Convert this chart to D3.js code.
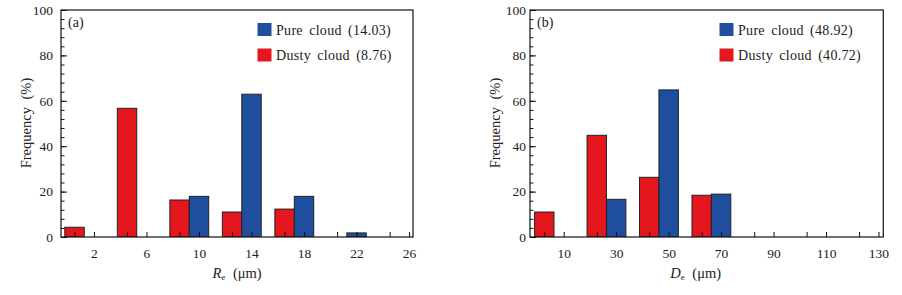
<!DOCTYPE html>
<html>
<head>
<meta charset="utf-8">
<script src="https://cdn.jsdelivr.net/npm/d3@7"></script>
<style>
  body { margin: 0; background: #fff; }
  svg { display: block; }
  text { font-family: "Liberation Serif", "Times New Roman", serif; fill: #222; }
</style>
</head>
<body>
<div id="chart"></div>
<script>
// panel (a): effective radius
const reBins = [2, 6, 10, 14, 18, 22, 26];
const rePure = [0, 0, 17.9, 62.9, 17.9, 1.8, 0];
const reDusty = [4.3, 56.7, 16.3, 11.0, 12.3, 0, 0];
// panel (b): effective diameter
const deBins = [10, 30, 50, 70, 90, 110, 130];
const dePure = [0, 16.6, 64.8, 18.9, 0, 0, 0];
const deDusty = [11.0, 44.8, 26.3, 18.4, 0, 0, 0];
const yTicks = [0, 20, 40, 60, 80, 100];
const seriesNames = ["Pure cloud", "Dusty cloud"];
const meansA = [14.03, 8.76];
const meansB = [48.92, 40.72];

const colors = { pure: "#1f4e9e", dusty: "#e3171d" };

const svg = d3.select("#chart").append("svg")
    .attr("width", 902)
    .attr("height", 295);

function drawPanel(opt) {
    const x = d3.scaleLinear().domain(opt.xDomain).range([opt.left, opt.right]);
    const y = d3.scaleLinear().domain([0, 100]).range([237, 10]);
    const w = opt.barW;
    const g = svg.append("g");

    const data = opt.bins.map((b, i) => ({ bin: b, pure: opt.pure[i], dusty: opt.dusty[i] }));

    // clip so the trailing group can't spill out of the frame
    const clipId = "clip-" + opt.tag;
    g.append("clipPath").attr("id", clipId)
        .append("rect")
        .attr("x", opt.left).attr("y", 10)
        .attr("width", opt.right - opt.left).attr("height", 227);
    const bars = g.append("g").attr("clip-path", `url(#${clipId})`);

    // dusty bars (left of each pair)
    bars.selectAll(".dusty")
        .data(data.filter(d => d.dusty > 0))
        .join("rect")
        .attr("class", "dusty")
        .attr("x", d => x(d.bin - 1.5 * w))
        .attr("width", d => x(d.bin - 0.5 * w) - x(d.bin - 1.5 * w))
        .attr("y", d => y(d.dusty))
        .attr("height", d => y(0) - y(d.dusty))
        .attr("fill", colors.dusty)
        .attr("stroke", "#222")
        .attr("stroke-width", 1);

    // pure bars (right of each pair, centred on the bin label)
    bars.selectAll(".pure")
        .data(data.filter(d => d.pure > 0))
        .join("rect")
        .attr("class", "pure")
        .attr("x", d => x(d.bin - 0.5 * w))
        .attr("width", d => x(d.bin + 0.5 * w) - x(d.bin - 0.5 * w))
        .attr("y", d => y(d.pure))
        .attr("height", d => y(0) - y(d.pure))
        .attr("fill", colors.pure)
        .attr("stroke", "#222")
        .attr("stroke-width", 1);

    // bottom ticks at every bar centre, labels only on the bin value
    const tickVals = [];
    opt.bins.forEach(b => { tickVals.push(b - w); tickVals.push(b); });
    const xAxis = g.append("g")
        .attr("transform", `translate(0,${y(0)})`)
        .call(d3.axisBottom(x)
            .tickValues(tickVals)
            .tickSizeInner(-5)
            .tickSizeOuter(0)
            .tickPadding(11)
            .tickFormat(v => opt.bins.includes(v) ? v : ""));
    xAxis.select(".domain").remove();
    xAxis.selectAll("line").attr("stroke", "#111");
    xAxis.selectAll("text").attr("font-size", "13.5px")
        .attr("font-family", "Liberation Serif, serif").attr("fill", "#222");

    // left axis: minor ticks every 4, major every 20
    const yMinor = g.append("g")
        .attr("transform", `translate(${opt.left},0)`)
        .call(d3.axisLeft(y).tickValues(d3.range(0, 101, 4)).tickSizeInner(-3.5).tickSizeOuter(0).tickFormat(""));
    yMinor.select(".domain").remove();
    yMinor.selectAll("line").attr("stroke", "#111");

    const yMajor = g.append("g")
        .attr("transform", `translate(${opt.left},0)`)
        .call(d3.axisLeft(y).tickValues(yTicks).tickSizeInner(-6).tickSizeOuter(0).tickPadding(opt.yPad));
    yMajor.select(".domain").remove();
    yMajor.selectAll("line").attr("stroke", "#111");
    yMajor.selectAll("text").attr("font-size", "13.5px")
        .attr("font-family", "Liberation Serif, serif").attr("fill", "#222");

    // frame
    g.append("rect")
        .attr("x", opt.left).attr("y", 10)
        .attr("width", opt.right - opt.left).attr("height", 227)
        .attr("fill", "none")
        .attr("stroke", "#111")
        .attr("stroke-width", 1.2);

    // panel tag
    g.append("text")
        .attr("x", opt.left + 7)
        .attr("y", 26.5)
        .attr("font-family", "Liberation Sans, Arial, sans-serif")
        .attr("font-size", "14px")
        .attr("fill", "#333")
        .text(`(${opt.tag})`);

    // legend
    const legend = g.append("g")
        .attr("transform", `translate(${opt.legendX},0)`);
    const items = [
        { name: seriesNames[0], mean: opt.means[0], color: colors.pure },
        { name: seriesNames[1], mean: opt.means[1], color: colors.dusty }
    ];
    const li = legend.selectAll("g")
        .data(items)
        .join("g")
        .attr("transform", (d, i) => `translate(0,${23 + i * 25.5})`);
    li.append("rect")
        .attr("width", 14)
        .attr("height", 13)
        .attr("fill", d => d.color);
    li.append("text")
        .attr("x", 18.5)
        .attr("y", 11.5)
        .attr("font-size", "14px")
        .attr("letter-spacing", "0.3px")
        .attr("word-spacing", "2.5px")
        .text(d => `${d.name} (${d.mean.toFixed(2)})`);

    // axis titles
    const xt = g.append("text")
        .attr("x", x(opt.titleAt))
        .attr("y", 278)
        .attr("text-anchor", "middle")
        .attr("font-size", "14.5px")
        .attr("word-spacing", "4px");
    xt.append("tspan").attr("font-style", "italic").text(opt.sym);
    xt.append("tspan").attr("font-size", "9px").attr("dy", 2).text("e");
    xt.append("tspan").attr("dy", -2).text(" (\u03bcm)");

    g.append("text")
        .attr("transform", `translate(${opt.left - 30},123) rotate(-90)`)
        .attr("text-anchor", "middle")
        .attr("font-size", "14.5px")
        .attr("word-spacing", "4px")
        .text("Frequency (%)");
}

drawPanel({
    tag: "a", bins: reBins, pure: rePure, dusty: reDusty,
    xDomain: [-0.51, 26.3], left: 61, right: 413, barW: 1.48,
    yPad: 8, legendX: 257.5, means: meansA, sym: "R", titleAt: 12.9
});

drawPanel({
    tag: "b", bins: deBins, pure: dePure, dusty: deDusty,
    xDomain: [-2.85, 131.83], left: 530, right: 883.3, barW: 7.4,
    yPad: 4, legendX: 719.5, means: meansB, sym: "D", titleAt: 60.3
});
</script>
</body>
</html>
